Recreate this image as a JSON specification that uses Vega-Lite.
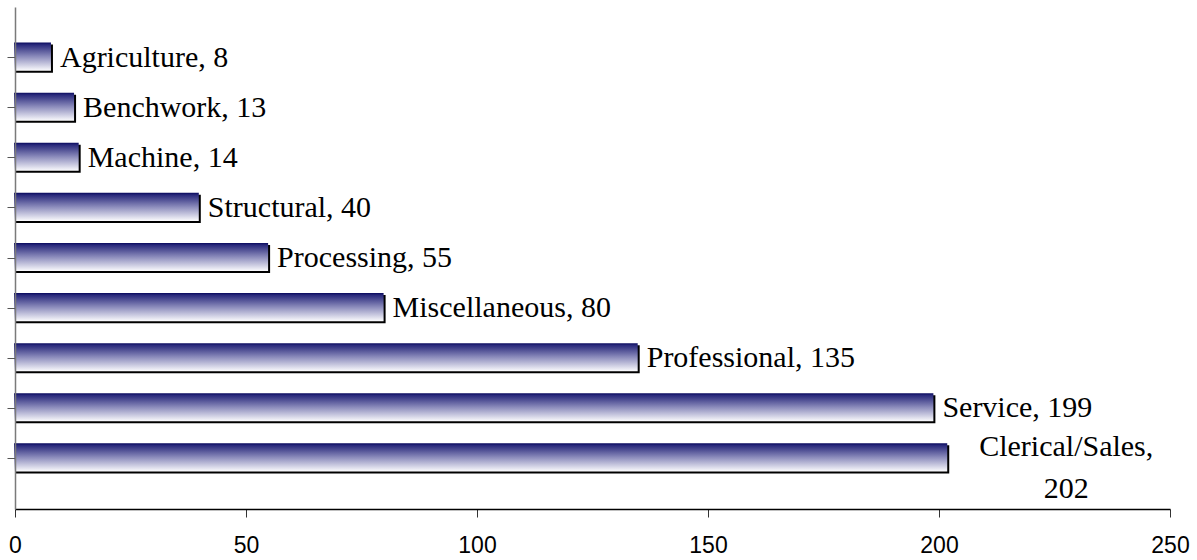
{
  "$schema": "https://vega.github.io/schema/vega-lite/v6.json",
  "width": 1155,
  "height": 502,
  "autosize": {"type": "none"},
  "padding": {"left": 15, "top": 7, "right": 27, "bottom": 51},
  "background": "white",
  "config": {"view": {"stroke": null}},
  "data": {
    "values": [
      {"occupation": "Agriculture", "count": 8, "label": "Agriculture, 8"},
      {"occupation": "Benchwork", "count": 13, "label": "Benchwork, 13"},
      {"occupation": "Machine", "count": 14, "label": "Machine, 14"},
      {"occupation": "Structural", "count": 40, "label": "Structural, 40"},
      {"occupation": "Processing", "count": 55, "label": "Processing, 55"},
      {"occupation": "Miscellaneous", "count": 80, "label": "Miscellaneous, 80"},
      {"occupation": "Professional", "count": 135, "label": "Professional, 135"},
      {"occupation": "Service", "count": 199, "label": "Service, 199"},
      {"occupation": "Clerical/Sales", "count": 202, "label": "Clerical/Sales,\n202"}
    ]
  },
  "encoding": {
    "y": {
      "field": "occupation",
      "type": "nominal",
      "sort": ["Agriculture", "Benchwork", "Machine", "Structural", "Processing", "Miscellaneous", "Professional", "Service", "Clerical/Sales"],
      "scale": {"paddingInner": 0.44, "paddingOuter": 0.73, "align": 0.5},
      "axis": {
        "title": null,
        "labels": false,
        "zindex": 1,
        "domainColor": "#7a7a7a",
        "domainWidth": 1.5,
        "tickColor": "#555555",
        "tickSize": 8,
        "tickWidth": 1
      }
    },
    "x": {
      "field": "count",
      "type": "quantitative",
      "scale": {"domain": [0, 250], "nice": false},
      "axis": {
        "values": [0, 50, 100, 150, 200, 250],
        "title": null,
        "grid": false,
        "zindex": 1,
        "domainColor": "#000000",
        "domainWidth": 1.5,
        "tickColor": "#333333",
        "tickSize": 8,
        "tickWidth": 1,
        "labelFont": "Liberation Sans",
        "labelFontSize": 23,
        "labelColor": "#000000",
        "labelPadding": 17,
        "labelFlush": false
      }
    }
  },
  "layer": [
    {
      "mark": {"type": "bar", "color": "#000000", "xOffset": 1, "x2Offset": 1, "yOffset": 1}
    },
    {
      "mark": {
        "type": "bar",
        "xOffset": -1,
        "x2Offset": -1,
        "yOffset": -1,
        "color": {
          "gradient": "linear",
          "x1": 0, "y1": 0, "x2": 0, "y2": 1,
          "stops": [
            {"offset": 0, "color": "#0a0a5e"},
            {"offset": 0.08, "color": "#2a2a7c"},
            {"offset": 0.5, "color": "#8c8cbc"},
            {"offset": 1, "color": "#fbfbfd"}
          ]
        }
      }
    },
    {
      "transform": [{"filter": "datum.occupation !== 'Clerical/Sales'"}],
      "mark": {
        "type": "text",
        "align": "left",
        "baseline": "middle",
        "dx": 8,
        "font": "Liberation Serif",
        "fontSize": 30,
        "color": "#000000"
      },
      "encoding": {"text": {"field": "label"}}
    },
    {
      "transform": [{"filter": "datum.occupation === 'Clerical/Sales'"}],
      "mark": {
        "type": "text",
        "align": "center",
        "baseline": "middle",
        "dx": 118,
        "dy": -11,
        "lineBreak": "\n",
        "lineHeight": 42,
        "font": "Liberation Serif",
        "fontSize": 30,
        "color": "#000000"
      },
      "encoding": {"text": {"field": "label"}}
    }
  ]
}
